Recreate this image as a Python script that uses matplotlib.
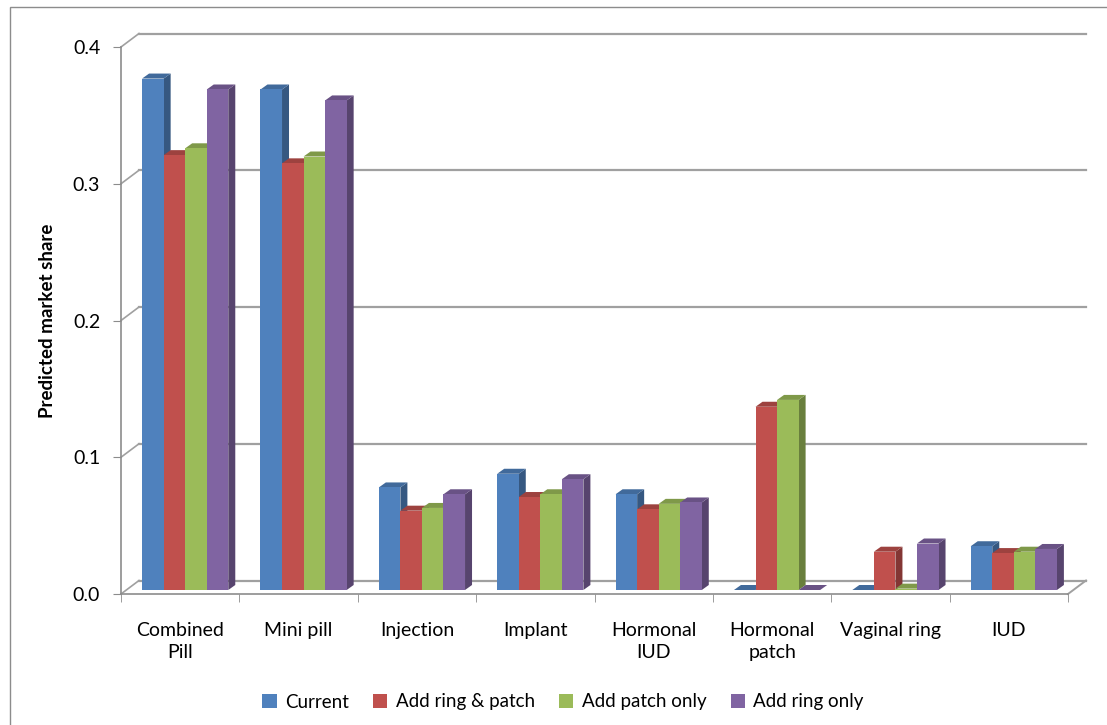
import numpy as np
import matplotlib
matplotlib.use("Agg")
import matplotlib.pyplot as plt
from matplotlib.patches import Polygon, Rectangle
from matplotlib.colors import to_rgb

plt.rcParams['font.family'] = ['Lato', 'DejaVu Sans']

categories = ["Combined\nPill", "Mini pill", "Injection", "Implant",
              "Hormonal\nIUD", "Hormonal\npatch", "Vaginal ring", "IUD"]
series_names = ["Current", "Add ring & patch", "Add patch only", "Add ring only"]
current = [0.374, 0.366, 0.075, 0.085, 0.070, 0.0, 0.0, 0.032]
ring_patch = [0.318, 0.312, 0.058, 0.068, 0.059, 0.134, 0.028, 0.027]
patch_only = [0.323, 0.317, 0.060, 0.070, 0.063, 0.139, 0.001, 0.028]
ring_only = [0.366, 0.358, 0.070, 0.081, 0.064, 0.0, 0.034, 0.030]
series = [current, ring_patch, patch_only, ring_only]
colors = ["#4F81BD", "#C0504D", "#9BBB59", "#8064A2"]
yticks = [0.0, 0.1, 0.2, 0.3, 0.4]

W, H = 1107, 725
fig = plt.figure(figsize=(W / 100, H / 100), dpi=100)

# chart border (left/top only, the picture is cropped)
fig.add_artist(Rectangle((10 / W, -0.05), 1.2, (H - 7) / H + 0.05, transform=fig.transFigure,
                         fill=False, ec="#8c8c8c", lw=1.0))

ax = fig.add_axes([121 / W, 131 / H, (1068 - 121) / W, (594 - 47) / H])
ax.set_xlim(-0.5, 7.5)
ax.set_ylim(0, 0.4)

# depth in data units (px -> data)
px_x = 8 / (1068 - 121)
px_y = 0.4 / (594 - 47)
DX, DY = 18 * px_x, 13.5 * px_y          # wall depth
bx, by = 5 * px_x, 4 * px_y               # bars sit slightly behind the front
sdx, sdy = 7 * px_x, 5 * px_y             # bar depth
grid_c = "#a0a0a0"

# back wall gridlines + left wall diagonals
for yv in yticks:
    ax.plot([-0.5 + DX, 7.5 + DX], [yv + DY, yv + DY], color=grid_c, lw=1.6, clip_on=False, zorder=1)
    ax.plot([-0.5, -0.5 + DX], [yv, yv + DY], color=grid_c, lw=1.2, clip_on=False, zorder=1)
# floor right edge
ax.plot([7.5, 7.5 + DX], [0, DY], color=grid_c, lw=1.4, clip_on=False, zorder=1)

# bars
w = 0.182
x = np.arange(len(categories))
for j, (vals, c) in enumerate(zip(series, colors)):
    rgb = np.array(to_rgb(c))
    side_c = rgb * 0.68
    top_c = rgb * 0.82
    xs = x + (j - 1.5) * w + bx
    ax.bar(xs, vals, w, bottom=by, color=c, edgecolor="none", zorder=3 + j * 0.01, label=series_names[j])
    for xi, v in zip(xs, vals):
        l, r = xi - w / 2, xi + w / 2
        b, t = by, by + v
        ax.add_patch(Polygon([(r, b), (r + sdx, b + sdy), (r + sdx, t + sdy), (r, t)],
                             closed=True, fc=side_c, ec="none", zorder=2.9 + j * 0.01, clip_on=False))
        ax.add_patch(Polygon([(l, t), (l + sdx, t + sdy), (r + sdx, t + sdy), (r, t)],
                             closed=True, fc=top_c, ec="none", zorder=2.9 + j * 0.01, clip_on=False))

for s in ["top", "right"]:
    ax.spines[s].set_visible(False)
for s in ["left", "bottom"]:
    ax.spines[s].set_color("#8c8c8c")
    ax.spines[s].set_linewidth(1.2)

ax.set_yticks(yticks)
ax.set_yticklabels([f"{v:.1f}" for v in yticks], fontsize=14)
ax.tick_params(axis="y", length=6, color="#8c8c8c", pad=9)
ax.set_xticks(x)
ax.set_xticklabels(categories, fontsize=14, linespacing=1.4, va="top")
ax.tick_params(axis="x", which="major", length=0, pad=20)
ax.set_xticks(np.arange(-0.5, 8, 1), minor=True)
ax.tick_params(axis="x", which="minor", length=6, color="#8c8c8c")
ax.set_ylabel("Predicted market share", fontsize=13.5, fontweight="bold")
ax.yaxis.set_label_coords(48 / W, (H - 321) / H, transform=fig.transFigure)
ax.yaxis.label.set_va("center")
ax.patch.set_alpha(0)

ax.legend(loc="center", bbox_to_anchor=(563 / W, (H - 702) / H), bbox_transform=fig.transFigure,
          ncol=4, frameon=False, fontsize=13.5, handlelength=0.75, handleheight=0.75,
          handletextpad=0.45, columnspacing=1.3)

fig.savefig("out.png", dpi=100)
